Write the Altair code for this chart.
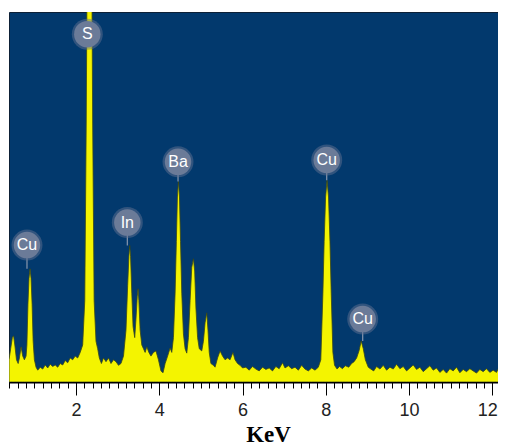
import altair as alt
import pandas as pd

# Spectrum trace (energy in KeV, counts in arbitrary units)
kev = [
    0.39, 0.43, 0.47, 0.50, 0.53, 0.57, 0.61, 0.64, 0.68, 0.72, 0.76, 0.80,
    0.82, 0.845, 0.87, 0.895, 0.92, 0.945, 0.97, 1.00, 1.04, 1.08, 1.14, 1.20,
    1.26, 1.32, 1.38, 1.44, 1.50, 1.56, 1.62, 1.68, 1.74, 1.80, 1.86, 1.92,
    1.98, 2.04, 2.10, 2.16, 2.21, 2.245, 2.265, 2.38, 2.40, 2.435, 2.48, 2.52,
    2.56, 2.61, 2.66, 2.72, 2.78, 2.84, 2.90, 2.96, 3.02, 3.08, 3.14, 3.20,
    3.24, 3.27, 3.29, 3.31, 3.34, 3.37, 3.41, 3.44, 3.47, 3.49, 3.51, 3.54,
    3.58, 3.62, 3.66, 3.70, 3.75, 3.80, 3.86, 3.92, 3.98, 4.04, 4.09, 4.14,
    4.20, 4.26, 4.30, 4.34, 4.38, 4.41, 4.435, 4.46, 4.485, 4.51, 4.54, 4.58,
    4.62, 4.66, 4.70, 4.74, 4.78, 4.82, 4.85, 4.88, 4.92, 4.96, 5.02, 5.06,
    5.10, 5.14, 5.17, 5.20, 5.24, 5.30, 5.34, 5.40, 5.46, 5.52, 5.58, 5.64,
    5.70, 5.77, 5.82, 5.88, 5.94, 6.00, 6.08, 6.16, 6.24, 6.32, 6.40, 6.48,
    6.56, 6.64, 6.72, 6.80, 6.88, 6.96, 7.02, 7.10, 7.18, 7.26, 7.34, 7.42,
    7.50, 7.58, 7.66, 7.74, 7.82, 7.88, 7.93, 7.96, 7.995, 8.03, 8.065, 8.10,
    8.13, 8.17, 8.21, 8.27, 8.33, 8.40, 8.47, 8.55, 8.62, 8.68, 8.74, 8.80,
    8.85, 8.90, 8.95, 9.02, 9.08, 9.15, 9.22, 9.30, 9.38, 9.46, 9.54, 9.62,
    9.70, 9.78, 9.86, 9.94, 10.02, 10.10, 10.18, 10.26, 10.34, 10.42, 10.50, 10.58,
    10.66, 10.74, 10.82, 10.90, 10.98, 11.06, 11.14, 11.22, 11.30, 11.38, 11.46, 11.54,
    11.62, 11.70, 11.78, 11.86, 11.94, 12.02, 12.10, 12.18, 12.24, 12.28,
]
counts = [
    6.0, 9.0, 12.0, 12.5, 10.0, 6.0, 5.0, 6.5, 9.5, 7.0, 6.0, 7.0,
    10.0, 21.0, 28.0, 30.6, 28.0, 21.0, 11.0, 6.0, 4.0, 3.2, 4.0, 3.5,
    4.6, 3.8, 4.8, 4.2, 4.6, 4.0, 5.0, 4.6, 5.8, 5.2, 6.5, 6.0,
    7.0, 6.5, 8.0, 10.0, 22.0, 70.0, 110.0, 110.0, 70.0, 22.0, 11.0, 9.0,
    6.5, 5.0, 6.5, 5.5, 6.5, 5.0, 6.0, 5.5, 4.5, 5.0, 7.0, 14.0,
    26.0, 34.0, 36.9, 34.0, 24.0, 15.0, 12.0, 17.0, 23.0, 25.2, 22.0, 14.0,
    10.0, 9.0, 8.0, 9.5, 8.0, 7.0, 8.0, 8.4, 6.0, 3.0, 2.5, 5.0,
    7.0, 9.2, 8.0, 12.0, 24.0, 38.0, 50.0, 54.2, 50.0, 38.0, 24.0, 13.0,
    9.0, 7.8, 12.0, 22.0, 31.0, 33.3, 30.0, 20.0, 12.0, 9.0, 8.4, 11.0,
    16.0, 18.7, 14.0, 8.0, 5.0, 4.5, 4.0, 6.5, 8.4, 7.0, 6.0, 6.5,
    6.0, 8.0, 6.0, 5.0, 4.5, 3.8, 4.0, 3.2, 4.2, 3.5, 3.0, 4.0,
    3.4, 3.8, 3.0, 4.2, 3.6, 5.2, 3.8, 4.4, 3.6, 4.0, 3.2, 4.5,
    3.5, 3.0, 3.8, 3.2, 4.0, 6.0, 24.0, 38.0, 50.0, 54.5, 50.0, 38.0,
    24.0, 8.0, 4.5, 3.5, 4.2, 3.6, 4.4, 4.0, 5.0, 5.5, 6.5, 8.5,
    11.1, 9.0, 6.0, 4.0, 3.5, 3.0, 4.2, 3.5, 4.5, 3.2, 4.0, 3.5,
    4.8, 3.6, 4.2, 3.0, 3.8, 4.6, 3.4, 4.0, 2.8, 3.6, 4.4, 3.2,
    3.8, 2.6, 3.4, 2.4, 3.6, 3.0, 4.0, 2.5, 3.4, 2.8, 3.6, 3.0,
    2.4, 3.4, 2.8, 3.6, 2.6, 3.2, 2.6, 4.5, 3.0, 3.0,
]

# Element labels
label_text = ["Cu", "S", "In", "Ba", "Cu", "Cu"]
label_kev = [0.822, 2.271, 3.232, 4.450, 8.022, 8.886]
label_y = [37.0, 94.0, 43.1, 59.5, 60.0, 17.0]
peak_y = [30.6, 94.0, 36.9, 54.2, 54.5, 11.1]

# Axis ticks (minor every 0.2 KeV, labelled every 2 KeV)
tick_values = [round(0.4 + 0.2 * i, 1) for i in range(60)]

spec = pd.DataFrame({"kev": kev, "counts": counts})
labels = pd.DataFrame({"text": label_text, "kev": label_kev, "ly": label_y, "py": peak_y})

is_major = "abs(datum.value / 2 - round(datum.value / 2)) < 0.01"

xscale = alt.Scale(domain=[0.39, 12.136], nice=False, zero=False)
yscale = alt.Scale(domain=[0, 100], nice=False, zero=False)

x_axis = alt.Axis(
    values=tick_values,
    tickCount=200,
    title="KeV",
    titleFont="Liberation Serif",
    titleFontWeight="bold",
    titleFontSize=23,
    titleColor="black",
    titleX=259,
    titleY=59,
    titleBaseline="alphabetic",
    titleAlign="center",
    labelExpr=f"{is_major} ? format(datum.value, 'd') : ''",
    labelFont="Liberation Sans",
    labelFontSize=18,
    labelColor="#222222",
    labelOverlap=False,
    labelFlush=False,
    labelPadding=6,
    labelOffset={"condition": {"test": "datum.value > 11.9", "value": -5}, "value": 0},
    tickSize={"condition": {"test": is_major, "value": 13}, "value": 6},
    tickColor="black",
    tickWidth=1,
    domainColor="black",
    domainWidth=2,
    grid=False,
)

area = alt.Chart(spec).mark_area(
    color="#f4f400", stroke="#3a4818", strokeWidth=0.8, clip=True, interpolate="linear"
).encode(
    x=alt.X("kev:Q", scale=xscale, axis=x_axis),
    y=alt.Y("counts:Q", scale=yscale, axis=None),
)

stems = alt.Chart(labels).mark_rule(color="#8a97ad", strokeWidth=1.2).encode(
    x=alt.X("kev:Q", scale=xscale),
    y=alt.Y("ly:Q", scale=yscale),
    y2="py:Q",
)

halo = alt.Chart(labels).mark_circle(size=960, color="#5f7090", opacity=0.5).encode(
    x=alt.X("kev:Q", scale=xscale),
    y=alt.Y("ly:Q", scale=yscale),
)

circles = alt.Chart(labels).mark_circle(size=700, color="#6b7b98", opacity=1).encode(
    x=alt.X("kev:Q", scale=xscale),
    y=alt.Y("ly:Q", scale=yscale),
)

texts = alt.Chart(labels).mark_text(
    color="white", font="Liberation Sans", fontSize=16, baseline="middle", align="center"
).encode(
    x=alt.X("kev:Q", scale=xscale),
    y=alt.Y("ly:Q", scale=yscale),
    text="text:N",
)

chart = alt.layer(area, stems, halo, circles, texts).properties(
    width=489,
    height=370,
    padding={"left": 1, "top": 4, "right": 0, "bottom": 66},
    autosize=alt.AutoSizeParams(type="none"),
    background="white",
).configure_view(fill="#02396d", stroke="#0d2036", strokeWidth=1)

chart.save("out.html", embed_options={"renderer": "svg", "actions": False})
